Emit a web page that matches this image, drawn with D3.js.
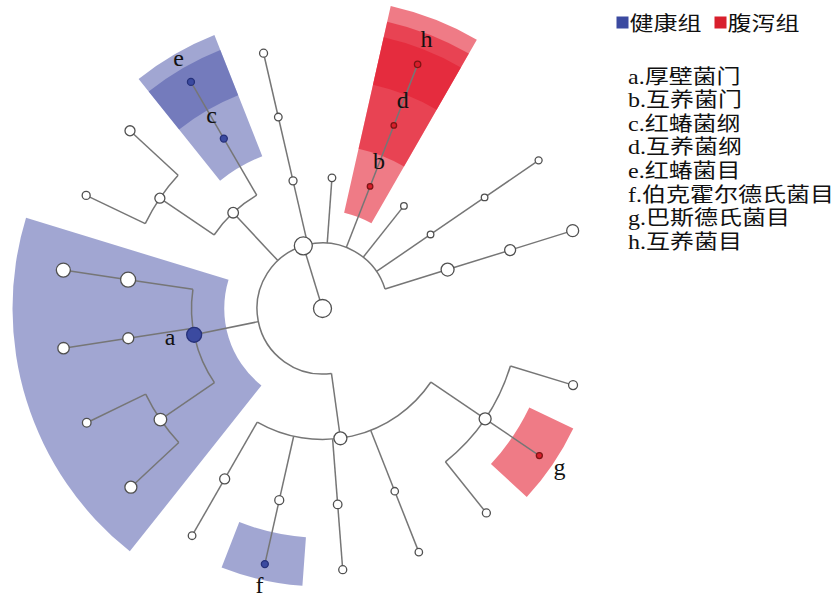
<!DOCTYPE html>
<html>
<head>
<meta charset="utf-8">
<script src="https://cdn.jsdelivr.net/npm/d3@7"></script>
<style>
  body { margin: 0; background: #fff; }
  svg { display: block; }
</style>
</head>
<body>
<svg id="chart" width="837" height="599"></svg>
<script>
// Taxonomic tree: [taxon, parent]; children are listed clockwise.
const taxa = [
  ["root", null],
  ["Bacteria", "root"],
  ["Proteobacteria", "Bacteria"],
  ["Gammaproteobacteria", "Proteobacteria"],
  ["Gamma_o1", "Gammaproteobacteria"],
  ["Pasteurellales", "Gammaproteobacteria"],
  ["Gamma_o3", "Gammaproteobacteria"],
  ["Proteo_c2", "Proteobacteria"],
  ["Proteo_c2_o1", "Proteo_c2"],
  ["Proteo_c3", "Proteobacteria"],
  ["Proteo_c3_o1", "Proteo_c3"],
  ["Betaproteobacteria", "Proteobacteria"],
  ["Burkholderiales", "Betaproteobacteria"],
  ["Proteo_c5", "Proteobacteria"],
  ["Proteo_c5_o1", "Proteo_c5"],
  ["Firmicutes", "Bacteria"],
  ["Firmi_c1", "Firmicutes"],
  ["Firmi_c1_o1", "Firmi_c1"],
  ["Firmi_c1_o2", "Firmi_c1"],
  ["Firmi_c2", "Firmicutes"],
  ["Firmi_c2_o1", "Firmi_c2"],
  ["Firmi_c3", "Firmicutes"],
  ["Firmi_c3_o1", "Firmi_c3"],
  ["Actinobacteria", "Bacteria"],
  ["Actino_c1", "Actinobacteria"],
  ["Actino_c1_o1", "Actino_c1"],
  ["Actino_c1_o2", "Actino_c1"],
  ["Coriobacteriia", "Actinobacteria"],
  ["Coriobacteriales", "Coriobacteriia"],
  ["phylum4", "Bacteria"],
  ["phylum4_c1", "phylum4"],
  ["phylum4_c1_o1", "phylum4_c1"],
  ["phylum5", "Bacteria"],
  ["Synergistetes", "Bacteria"],
  ["Synergistia", "Synergistetes"],
  ["Synergistales", "Synergistia"],
  ["phylum7", "Bacteria"],
  ["phylum8", "Bacteria"],
  ["phylum8_c1", "phylum8"],
  ["phylum8_c1_o1", "phylum8_c1"],
  ["phylum9", "Bacteria"],
  ["phylum9_c1", "phylum9"],
  ["phylum9_c1_o1", "phylum9_c1"]
];

// Relative abundance (%) of each taxon, same order as `taxa`.
const abundance = [
  100, 100,
  2.7, 1.33, 0.15, 0.018, 0.075, 0.05, 0.05, 0.115, 0.075, 0.15, 0.037, 0.32, 0.056,
  11.5, 2.05, 1.33, 0.115, 0.65, 0.87, 11.5, 5.6,
  0.49, 0.32, 0.075, 0.32, 0.037, 0.037,
  0.075, 0.056, 0.075,
  0.056,
  0.013, 0.013, 0.024,
  0.027,
  0.027, 0.027, 0.037,
  2.7, 0.65, 1.33
];

// Biomarkers: [taxon, enriched group index, letter]
const markers = [
  ["Firmicutes", 0, "a"],
  ["Synergistetes", 1, "b"],
  ["Coriobacteriia", 0, "c"],
  ["Synergistia", 1, "d"],
  ["Coriobacteriales", 0, "e"],
  ["Burkholderiales", 0, "f"],
  ["Pasteurellales", 1, "g"],
  ["Synergistales", 1, "h"]
];

const groups = ["健康组", "腹泻组"];
const markerNames = [
  "a.厚壁菌门", "b.互养菌门", "c.红蝽菌纲", "d.互养菌纲",
  "e.红蝽菌目", "f.伯克霍尔德氏菌目", "g.巴斯德氏菌目", "h.互养菌目"
];

// ---- styles ----
const groupColor = ["#4b55a8", "#e31b2f"];
const groupOpacity = [0.52, 0.58];
const nodeFill = ["#3b4aa0", "#d81f2c"];
const nodeStroke = ["#26317a", "#7e1414"];
const lineColor = "#767676";
const cx = 322.5, cy = 308.5;

const svg = d3.select("#chart");

// ---- layout ----
const tree = d3.stratify().id(d => d[0]).parentId(d => d[1])(taxa);
const abundanceOf = new Map(taxa.map((t, i) => [t[0], abundance[i]]));
tree.each(n => n.abundance = abundanceOf.get(n.id));

const leaves = tree.leaves();
// one empty slot separates the last leaf from the first
const slot = d3.scaleLinear().domain([0, leaves.length + 1]).range([107, 467]);
const slotStep = slot(1) - slot(0);
leaves.forEach((l, i) => l.theta = slot(i));
tree.eachAfter(n => { if (n.children) n.theta = d3.mean(n.children, c => c.theta); });

const radius = d3.scaleLinear().domain([0, 4]).range([0, 262]);
const levelStep = radius(1) - radius(0);
const size = d3.scaleLog().domain([0.01, 100]).range([2.6, 9]).clamp(true);

const rad = deg => deg * Math.PI / 180;
const pt = (theta, r) => d3.pointRadial(rad(theta), r);

const plot = svg.append("g").attr("transform", `translate(${cx},${cy})`);

// ---- clade shading ----
const byId = new Map();
tree.each(n => byId.set(n.id, n));
const markerInfo = new Map(markers.map(m => [m[0], { group: m[1], letter: m[2] }]));

const wedges = markers.map(m => {
  const n = byId.get(m[0]);
  const lv = n.leaves();
  return {
    node: n,
    group: m[1],
    innerRadius: radius(n.depth) - levelStep / 2,
    outerRadius: radius(4) + 16 * (5 - n.depth),
    startAngle: rad(d3.min(lv, l => l.theta) - slotStep / 2),
    endAngle: rad(d3.max(lv, l => l.theta) + slotStep / 2)
  };
}).sort((a, b) => a.node.depth - b.node.depth);

plot.append("g").selectAll("path")
  .data(wedges)
  .join("path")
  .attr("d", d3.arc())
  .attr("fill", d => groupColor[d.group])
  .attr("fill-opacity", d => groupOpacity[d.group]);

// ---- branches ----
const branches = plot.append("g")
  .attr("fill", "none")
  .attr("stroke", lineColor)
  .attr("stroke-width", 1.5);

tree.each(n => {
  if (!n.children) return;
  const r0 = radius(n.depth);
  if (n.children.length > 1) {
    const a0 = d3.min(n.children, c => c.theta);
    const a1 = d3.max(n.children, c => c.theta);
    const p = d3.path();
    p.arc(0, 0, r0, rad(a0 - 90), rad(a1 - 90), false);
    branches.append("path").attr("d", p.toString());
  }
  n.children.forEach(c => {
    const [x1, y1] = pt(c.theta, r0);
    const [x2, y2] = pt(c.theta, radius(c.depth));
    branches.append("line")
      .attr("x1", x1).attr("y1", y1)
      .attr("x2", x2).attr("y2", y2);
  });
});

// ---- nodes ----
plot.append("g").selectAll("circle")
  .data(tree.descendants())
  .join("circle")
  .attr("cx", d => pt(d.theta, radius(d.depth))[0])
  .attr("cy", d => pt(d.theta, radius(d.depth))[1])
  .attr("r", d => size(d.abundance))
  .attr("fill", d => markerInfo.has(d.id) ? nodeFill[markerInfo.get(d.id).group] : "#fff")
  .attr("stroke", d => markerInfo.has(d.id) ? nodeStroke[markerInfo.get(d.id).group] : "#505050")
  .attr("stroke-width", 1.3);

// ---- clade letters ----
plot.append("g").selectAll("text")
  .data(markers)
  .join("text")
  .attr("x", m => { const n = byId.get(m[0]); return pt(n.theta, radius(n.depth) + 24.5)[0]; })
  .attr("y", m => { const n = byId.get(m[0]); return pt(n.theta, radius(n.depth) + 24.5)[1] + 5.5; })
  .attr("text-anchor", "middle")
  .attr("font-family", "'Liberation Serif', 'Times New Roman', serif")
  .attr("font-size", 24)
  .attr("fill", "#111")
  .text(m => m[2]);

// ---- legend ----
const legend = svg.append("g");
const legendX = [616.5, 714.5];
groups.forEach((g, i) => {
  legend.append("rect")
    .attr("x", legendX[i]).attr("y", 16.5)
    .attr("width", 12).attr("height", 12)
    .attr("fill", nodeFill[i]);
  legend.append("text")
    .attr("transform", `translate(${legendX[i] + 13},31) scale(1.2,1)`)
    .attr("font-family", "'Noto Sans CJK SC', sans-serif")
    .attr("font-size", 20)
    .attr("fill", "#111")
    .text(g);
});

const list = svg.append("g")
  .attr("font-family", "'Liberation Serif', 'Noto Sans CJK SC', serif")
  .attr("font-size", 20)
  .attr("fill", "#111");
markerNames.forEach((t, i) => {
  list.append("text")
    .attr("transform", `translate(628,${83.5 + i * 23.6}) scale(1.2,1)`)
    .text(t);
});
</script>
</body>
</html>
